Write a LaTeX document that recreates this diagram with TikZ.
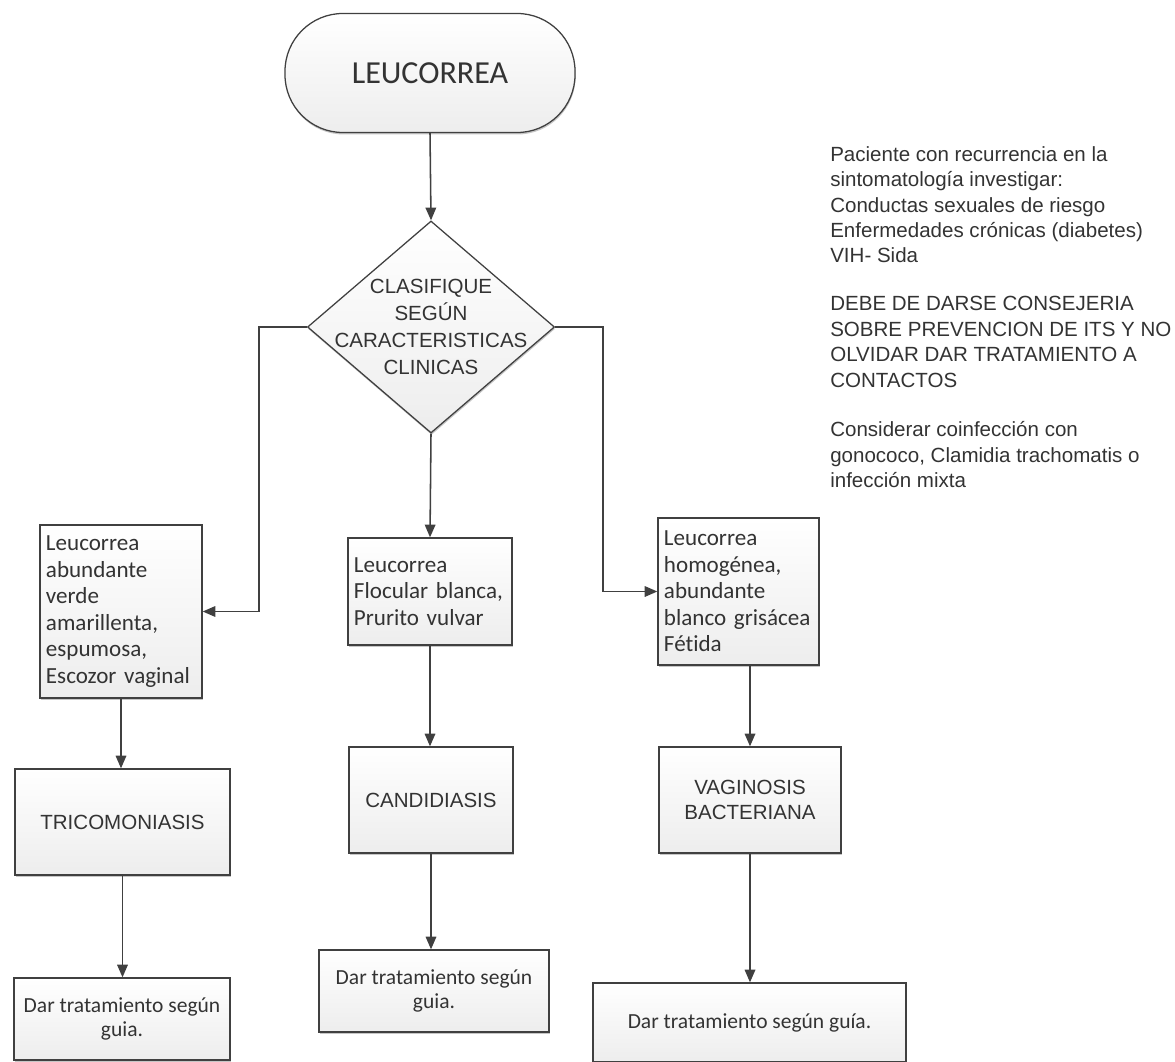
\documentclass[tikz,border=0pt]{standalone}
\usepackage{fontspec}
\setmainfont{Liberation Sans}
\newfontfamily\calibrifont[RawFeature={-liga;-clig;-calt;-dlig}]{Carlito}
\usetikzlibrary{arrows.meta, positioning, calc, shapes.geometric, shadows}

\begin{document}
\begin{tikzpicture}[
    x=0.025cm, y=-0.025cm,
    font=\fontsize{14.6}{17.8}\selectfont, text=black!80,
    boxfill/.style={
        top color=white, bottom color=black!7, draw=black!75, line width=0.9pt,
        drop shadow={shadow xshift=0.4pt, shadow yshift=-1.4pt, opacity=0.45}
    },
    startbox/.style={
        boxfill, rectangle, rounded corners=1.45cm,
        minimum width=7.25cm, minimum height=2.975cm,
        font=\calibrifont\fontsize{22.8}{26}\selectfont
    },
    decision/.style={
        boxfill, diamond, aspect=1.165, inner sep=0pt,
        minimum width=6.175cm, minimum height=5.3cm
    },
    decisiontext/.style={align=center, font=\fontsize{14.6}{19.2}\selectfont},
    signbox/.style={
        boxfill, rectangle, align=left, inner xsep=0.15cm,
        font=\calibrifont\fontsize{16.4}{18.9}\selectfont
    },
    diseasebox/.style={boxfill, rectangle, align=center, minimum height=2.65cm},
    treatbox/.style={
        boxfill, rectangle, align=center,
        font=\calibrifont\fontsize{15.3}{17.5}\selectfont
    },
    notes/.style={align=left, inner sep=0pt, font=\fontsize{14.6}{18.1}\selectfont},
    arrow/.style={-{Triangle[length=9pt, width=7.5pt]}, line width=1.1pt, draw=black!75}
]
\useasboundingbox (0,0) rectangle (1175,1062);

% Start and decision
\node[startbox] (leuc) at (430,73) {LEUCORREA};
\node[decision, label={[decisiontext]center:{CLASIFIQUE\\SEGÚN\\CARACTERISTICAS\\CLINICAS}}]
    (clasif) at (431,327) {};

% Clinical signs
\node[signbox, minimum width=4.05cm, minimum height=4.325cm, text width=3.75cm]
    (tricsigns) at (121,611.5) {Leucorrea\\abundante\\verde\\amarillenta,\\espumosa,\\Escozor vaginal};
\node[signbox, minimum width=4.1cm, minimum height=2.675cm, text width=3.8cm]
    (candsigns) at (430,591.5) {Leucorrea\\Flocular blanca,\\Prurito vulvar};
\node[signbox, minimum width=4.025cm, minimum height=3.675cm, text width=3.725cm]
    (vagsigns) at (738.5,591.5) {Leucorrea\\homogénea,\\abundante\\blanco grisácea\\Fétida};

% Diagnoses
\node[diseasebox, minimum width=5.375cm] (trico) at (122.5,822) {TRICOMONIASIS};
\node[diseasebox, minimum width=4.1cm]   (candi) at (431,800)   {CANDIDIASIS};
\node[diseasebox, minimum width=4.55cm]  (vagin) at (750,800)   {VAGINOSIS\\BACTERIANA};

% Treatment
\node[treatbox, minimum width=5.4cm,   minimum height=2.05cm]  (trata) at (122,1019)    {Dar tratamiento según\\guia.};
\node[treatbox, minimum width=5.75cm,  minimum height=2.05cm]  (tratb) at (434,991)     {Dar tratamiento según\\guia.};
\node[treatbox, minimum width=7.825cm, minimum height=1.975cm] (tratc) at (749.5,1022.5) {Dar tratamiento según guía.};

% Side notes
\node[notes, anchor=north west] (notes) at (830,146)
    {Paciente con recurrencia en la\\sintomatología investigar:\\Conductas sexuales de riesgo\\
     Enfermedades crónicas (diabetes)\\VIH- Sida\\[0.56cm]
     DEBE DE DARSE CONSEJERIA\\SOBRE PREVENCION DE ITS Y NO\\OLVIDAR DAR TRATAMIENTO A\\CONTACTOS\\[0.6cm]
     Considerar coinfección con\\gonococo, Clamidia trachomatis o\\infección mixta};

% Connectors
\draw[arrow] (leuc.south) -- (clasif.north);
\draw[arrow] (clasif.west) -- ++(-48,0) |- (tricsigns.east);
\draw[arrow] (clasif.south) -- (candsigns.north);
\draw[arrow] (clasif.east) -- ++(48,0) |- (vagsigns.west);

\draw[arrow] (tricsigns.south) -- (tricsigns.south |- trico.north);
\draw[arrow] (candsigns.south) -- (candsigns.south |- candi.north);
\draw[arrow] (vagin.north |- vagsigns.south) -- (vagin.north);

\draw[arrow] (trico.south) -- (trico.south |- trata.north);
\draw[arrow] (candi.south) -- (candi.south |- tratb.north);
\draw[arrow] (vagin.south) -- (vagin.south |- tratc.north);

\end{tikzpicture}
\end{document}
